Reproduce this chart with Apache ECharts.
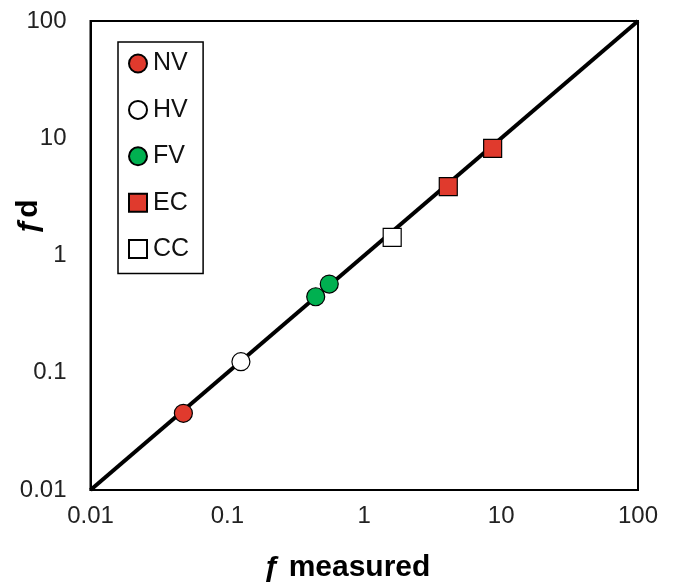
<!DOCTYPE html>
<html>
<head>
<meta charset="utf-8">
<script src="https://cdn.jsdelivr.net/npm/echarts@6/dist/echarts.min.js"></script>
<style>html,body{margin:0;padding:0;background:#fff}#c{width:675px;height:588px}</style>
</head>
<body>
<div id="c"></div>
<script>
const categories = ['NV', 'HV', 'FV', 'EC', 'CC'];
const nvMeasured = [0.0477];
const nvD = [0.0451];
const hvMeasured = [0.1256];
const hvD = [0.1242];
const fvMeasured = [0.442, 0.555];
const fvD = [0.445, 0.571];
const ecMeasured = [4.11, 8.67];
const ecD = [3.86, 8.21];
const ccMeasured = [1.60];
const ccD = [1.43];
const lineX = [0.01, 100];
const lineY = [0.01, 100];
const tickLabels = ['0.01', '0.1', '1', '10', '100'];

function pairs(xs, ys) { return xs.map((x, i) => [x, ys[i]]); }
function fmt(v) {
  const s = String(+(+v).toPrecision(3));
  return tickLabels.includes(s) ? s : '';
}

const FONT = '"Liberation Sans", Arial, sans-serif';
const RED = '#E03A2D', GREEN = '#00B050';

const chart = echarts.init(document.getElementById('c'), null, { renderer: 'canvas' });
const markerStyle = (fill) => ({ color: fill, borderColor: '#000', borderWidth: 1.2, opacity: 1 });

chart.setOption({
  animation: false,
  backgroundColor: '#fff',
  textStyle: { fontFamily: FONT },
  grid: { left: 90.5, right: 37, top: 21, bottom: 98, show: true, borderColor: '#000', borderWidth: 2, backgroundColor: 'transparent' },
  xAxis: {
    type: 'log', logBase: 10, min: 0.01, max: 100,
    axisLine: { show: true, lineStyle: { color: '#000', width: 2 } },
    axisTick: { show: false }, splitLine: { show: false },
    axisLabel: { formatter: fmt, color: '#222', fontSize: 24, fontFamily: FONT, margin: 14, showMinLabel: true, showMaxLabel: true }
  },
  yAxis: {
    type: 'log', logBase: 10, min: 0.01, max: 100,
    axisLine: { show: true, lineStyle: { color: '#000', width: 2 } },
    axisTick: { show: false }, splitLine: { show: false },
    axisLabel: { formatter: fmt, color: '#222', fontSize: 24, fontFamily: FONT, margin: 24, showMinLabel: true, showMaxLabel: true }
  },
  legend: {
    data: categories,
    orient: 'vertical', left: 118, top: 42,
    padding: [9, 14, 12, 10],
    itemWidth: 18, itemHeight: 18, itemGap: 21.4,
    borderColor: '#000', borderWidth: 1.5, backgroundColor: '#fff',
    textStyle: { fontSize: 25, fontFamily: FONT, color: '#111', lineHeight: 25, padding: [0, 0, 0, 1] },
    selectedMode: false
  },
  graphic: [
    { type: 'text', left: 'auto', x: 347, y: 568, z: 100,
      style: { text: 'ƒ measured', font: 'bold 30px ' + FONT, fill: '#000', align: 'center', verticalAlign: 'middle' } },
    { type: 'text', x: 29, y: 217, rotation: Math.PI / 2, z: 100,
      style: { text: 'ƒd', font: 'bold 30px ' + FONT, fill: '#000', align: 'center', verticalAlign: 'middle' } }
  ],
  series: [
    { name: 'diag', type: 'line', data: pairs(lineX, lineY), showSymbol: false, symbol: 'none',
      lineStyle: { color: '#000', width: 4 }, z: 1, silent: true },
    { name: 'NV', type: 'scatter', symbol: 'circle', symbolSize: 18, data: pairs(nvMeasured, nvD), itemStyle: markerStyle(RED), z: 3 },
    { name: 'HV', type: 'scatter', symbol: 'circle', symbolSize: 18, data: pairs(hvMeasured, hvD), itemStyle: markerStyle('#fff'), z: 3 },
    { name: 'FV', type: 'scatter', symbol: 'circle', symbolSize: 18, data: pairs(fvMeasured, fvD), itemStyle: markerStyle(GREEN), z: 3 },
    { name: 'EC', type: 'scatter', symbol: 'rect', symbolSize: 18, data: pairs(ecMeasured, ecD), itemStyle: markerStyle(RED), z: 3 },
    { name: 'CC', type: 'scatter', symbol: 'rect', symbolSize: 18, data: pairs(ccMeasured, ccD), itemStyle: markerStyle('#fff'), z: 3 }
  ]
});
</script>
</body>
</html>
